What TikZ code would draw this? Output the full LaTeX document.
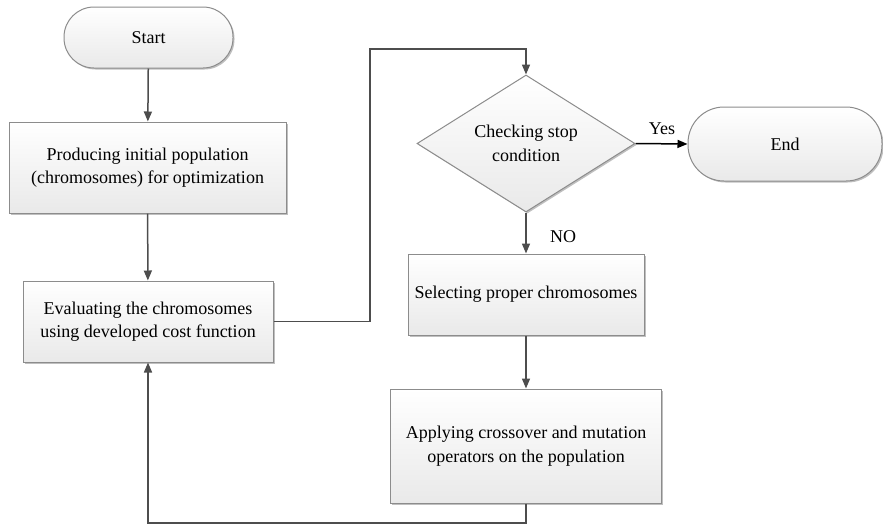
\documentclass[tikz,border=0pt]{standalone}
\usepackage{fontspec}
\setmainfont{Liberation Serif}
\usetikzlibrary{shapes.geometric,arrows.meta,shadows}
\definecolor{boxborder}{HTML}{8C8C8C}
\definecolor{boxbottom}{HTML}{E9E9E9}
\definecolor{conncol}{HTML}{4D4D4D}
\begin{document}
\begin{tikzpicture}[x=1pt,y=-1pt,
  shapebase/.style={draw=boxborder, line width=1pt, top color=white, bottom color=boxbottom,
    drop shadow={shadow xshift=1.5pt, shadow yshift=-1.5pt, opacity=0.25, fill=black},
    align=center, font=\fontsize{18}{23.5}\selectfont, inner sep=0pt},
  procbox/.style={shapebase, rectangle},
  termbox/.style={shapebase, rectangle, rounded corners=#1},
  decbox/.style={shapebase, diamond, aspect=1.59},
  conn/.style={draw=conncol, line width=1.5pt, -{Triangle[length=10pt,width=8pt]}},
  lbl/.style={font=\fontsize{18}{20}\selectfont, inner sep=0pt}
]
\useasboundingbox (0,0) rectangle (883,525);
\node[termbox=30pt, minimum width=169pt, minimum height=61pt] (start) at (148.5,37.5) {Start};
\node[procbox, minimum width=277pt, minimum height=91pt] (init) at (147.5,167.5) {Producing initial population\\(chromosomes) for optimization};
\node[procbox, minimum width=250pt, minimum height=81pt] (eval) at (148,321.5) {Evaluating the chromosomes\\using developed cost function};
\node[decbox, minimum width=218pt, minimum height=137pt] (stop) at (526,143.5) {Checking stop\\condition};
\node[termbox=36pt, minimum width=194pt, minimum height=74pt] (end) at (785,144) {End};
\node[procbox, minimum width=236pt, minimum height=81pt] (sel) at (526,294.5) {Selecting proper chromosomes};
\node[procbox, minimum width=271pt, minimum height=114pt] (app) at (526,446) {Applying crossover and mutation\\operators on the population};
\coordinate (up) at (370,49);
\coordinate (low) at (148,523);
\draw[conn] (start) -- (init);
\draw[conn] (init) -- (eval);
\draw[conn] (eval.east) -| (up) -| (stop.north);
\draw[conn, draw=black] (stop.east) -- (end.west);
\node[lbl] (yes) at (662,129) {Yes};
\draw[conn] (stop.south) -- (sel.north);
\node[lbl] (no) at (563,237) {NO};
\draw[conn] (sel) -- (app);
\draw[conn] (app.south) |- (low) -- (eval.south);
\end{tikzpicture}
\end{document}
